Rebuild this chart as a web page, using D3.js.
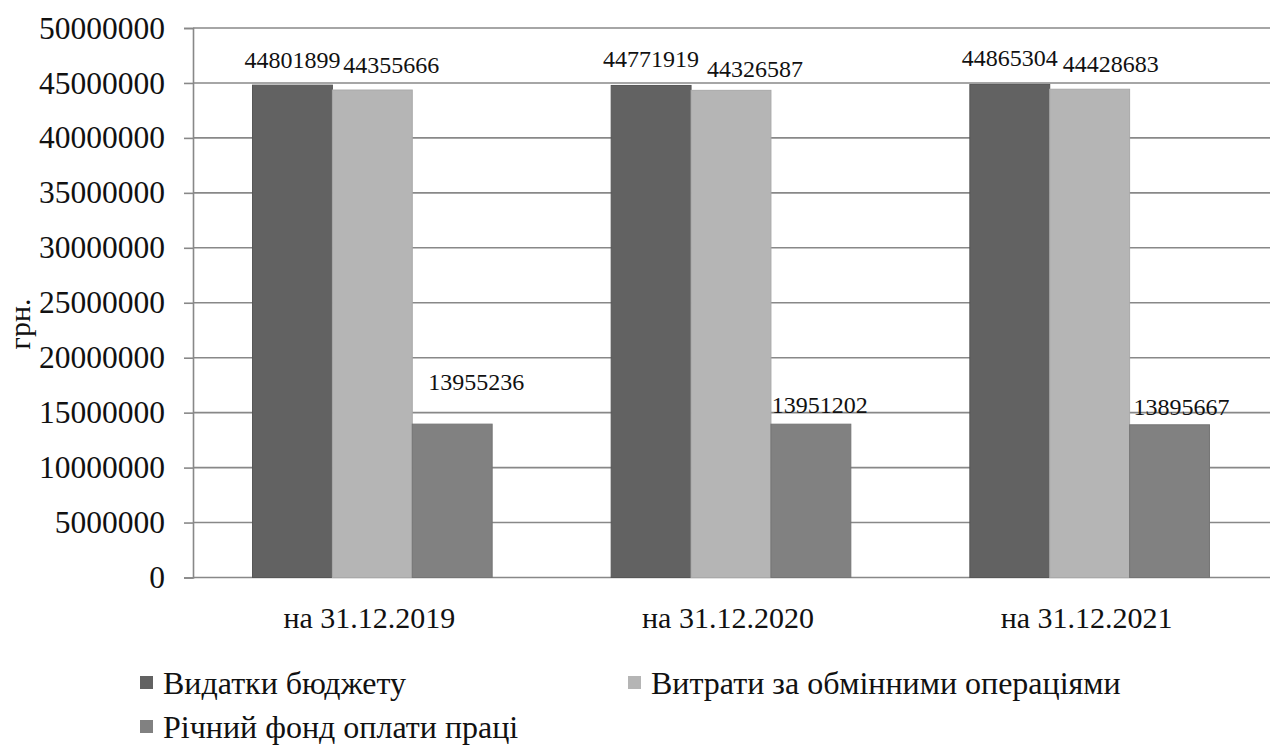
<!DOCTYPE html>
<html>
<head>
<meta charset="utf-8">
<script src="https://cdn.jsdelivr.net/npm/d3@7"></script>
<style>
  html, body { margin: 0; padding: 0; background: #ffffff; }
  svg { display: block; }
  svg text { font-family: "Liberation Serif", "Times New Roman", serif; fill: #111; }
</style>
</head>
<body>
<svg id="chart" width="1270" height="746"></svg>
<script>
// Categories (reporting dates)
const categories = ["на 31.12.2019", "на 31.12.2020", "на 31.12.2021"];

// Series names
const seriesNames = [
  "Видатки бюджету",
  "Витрати за обмінними операціями",
  "Річний фонд оплати праці"
];

// Values per series, grn
const budgetExpenses   = [44801899, 44771919, 44865304];
const exchangeCosts    = [44355666, 44326587, 44428683];
const annualPayroll    = [13955236, 13951202, 13895667];

// Y axis ticks
const yTicks = [0, 5000000, 10000000, 15000000, 20000000, 25000000,
                30000000, 35000000, 40000000, 45000000, 50000000];

const seriesValues = [budgetExpenses, exchangeCosts, annualPayroll];
const colors = ["#626262", "#b5b5b5", "#818181"];
const strokes = ["#565656", "#a9a9a9", "#757575"];
const serifFont = "'Liberation Serif', 'Times New Roman', serif";

// Hand-placed value label nudges [dx, dy from bar top] per series / category
const labelNudge = [
  [[0, -17], [0, -18], [0, -18]],
  [[19, -17], [24, -13], [21, -17]],
  [[24, -34], [9, -11], [12, -10]]
];

const svg = d3.select("#chart").style("font-family", serifFont);
const plotLeft = 193, plotRight = 1269, plotTop = 28, plotBottom = 577.5;

const x0 = d3.scaleBand().domain(categories).range([plotLeft, plotRight]).padding(0);
const x1 = d3.scaleBand().domain(d3.range(seriesNames.length))
  .range([0, x0.bandwidth()]).paddingInner(0).paddingOuter(0.745);
const y = d3.scaleLinear().domain([0, 50000000]).range([plotBottom, plotTop]);

// Horizontal gridlines
svg.append("g")
  .selectAll("line")
  .data(yTicks)
  .join("line")
  .attr("x1", plotLeft).attr("x2", 1270)
  .attr("y1", d => y(d)).attr("y2", d => y(d))
  .attr("stroke", "#888").attr("stroke-width", 1.6);

// Y axis with outward ticks
const yAxis = d3.axisLeft(y).tickValues(yTicks).tickSize(9).tickPadding(19)
  .tickFormat(d3.format("d"));
const gy = svg.append("g").attr("transform", `translate(${plotLeft},0)`).call(yAxis);
gy.attr("font-family", null);
gy.select(".domain").attr("stroke", "#888").attr("stroke-width", 1.6);
gy.selectAll(".tick line").attr("stroke", "#888").attr("stroke-width", 1.6);
gy.selectAll(".tick text")
  .style("font-family", serifFont)
  .attr("font-size", 31.5).attr("fill", "#111");

// Bars
const groups = svg.append("g")
  .selectAll("g")
  .data(categories)
  .join("g")
  .attr("transform", d => `translate(${x0(d)},0)`);

groups.selectAll("rect")
  .data((c, ci) => seriesValues.map((vals, si) => ({ si, ci, v: vals[ci] })))
  .join("rect")
  .attr("x", d => x1(d.si))
  .attr("y", d => y(d.v))
  .attr("width", x1.bandwidth())
  .attr("height", d => y(0) - y(d.v))
  .attr("fill", d => colors[d.si])
  .attr("stroke", d => strokes[d.si])
  .attr("stroke-width", 1);

// Value labels
groups.selectAll("text.val")
  .data((c, ci) => seriesValues.map((vals, si) => ({ si, ci, v: vals[ci] })))
  .join("text")
  .attr("class", "val")
  .attr("x", d => x1(d.si) + x1.bandwidth() / 2 + labelNudge[d.si][d.ci][0])
  .attr("y", d => y(d.v) + labelNudge[d.si][d.ci][1])
  .attr("text-anchor", "middle")
  .attr("font-size", 24)
  .text(d => d.v);

// Category labels
svg.append("g")
  .selectAll("text")
  .data(categories)
  .join("text")
  .attr("x", d => x0(d) + x0.bandwidth() / 2 - 3)
  .attr("y", 628)
  .attr("text-anchor", "middle")
  .attr("font-size", 30)
  .text(d => d);

// Y axis title
svg.append("text")
  .attr("transform", "translate(30,324) rotate(-90)")
  .attr("text-anchor", "middle")
  .attr("font-size", 30)
  .text("грн.");

// Legend
const legendPos = [[140, 683], [628, 683], [140, 727]];
const legend = svg.append("g")
  .selectAll("g")
  .data(seriesNames)
  .join("g")
  .attr("transform", (d, i) => `translate(${legendPos[i][0]},${legendPos[i][1]})`);
legend.append("rect")
  .attr("x", 0).attr("y", -7).attr("width", 13).attr("height", 13)
  .attr("fill", (d, i) => colors[i]);
legend.append("text")
  .attr("x", 23).attr("y", 11)
  .attr("font-size", 32)
  .text(d => d);
</script>
</body>
</html>
